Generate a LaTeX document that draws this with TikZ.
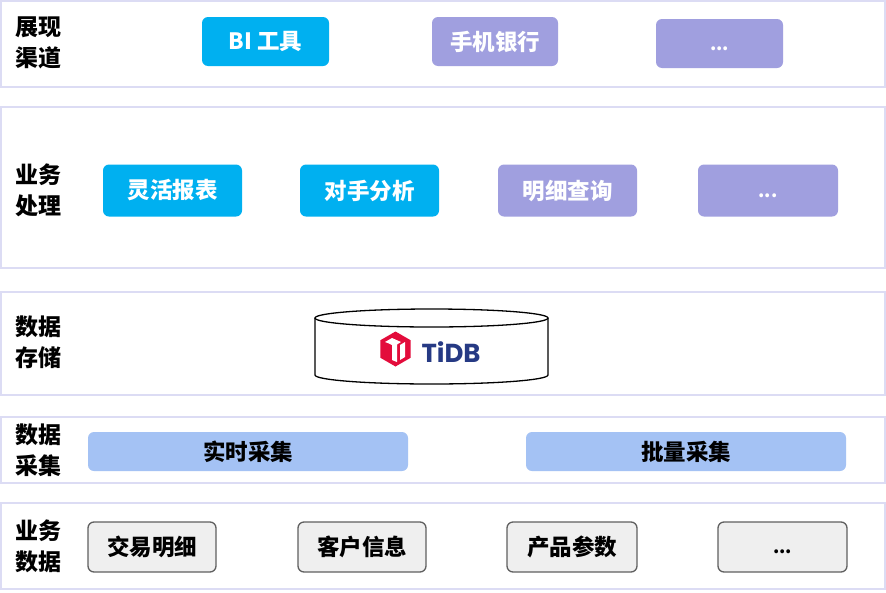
\documentclass[tikz,border=0pt]{standalone}
\usepackage{fontspec}
\usetikzlibrary{shapes.geometric}
\setmainfont{Noto Sans CJK SC}
\newfontfamily\logofont{Poppins}
\definecolor{lav}{HTML}{DCDCF4}
\definecolor{cyanbtn}{HTML}{00B0F0}
\definecolor{purbtn}{HTML}{A09FDF}
\definecolor{bluebar}{HTML}{A4C2F4}
\definecolor{greybox}{HTML}{EFEFEF}
\definecolor{greyline}{HTML}{606060}
\definecolor{tired}{HTML}{E30C3B}
\definecolor{tinavy}{HTML}{263A84}
\begin{document}
\begin{tikzpicture}[x=1pt,y=-1pt,
  panel/.style={draw=lav, line width=2pt, fill=white, inner sep=0pt},
  lbl/.style={anchor=west, align=left, font=\bfseries\fontsize{23}{31}\selectfont},
  btn/.style={rounded corners=6pt, inner sep=0pt, text=white, font=\bfseries\fontsize{22.5}{26}\selectfont},
  cbtn/.style={btn, fill=cyanbtn, minimum height=52pt},
  pbtn/.style={btn, fill=purbtn},
  bar/.style={btn, fill=bluebar, text=black, minimum width=320pt, minimum height=39pt},
  gbox/.style={btn, fill=greybox, draw=greyline, line width=1.3pt, text=black, minimum height=50pt},
  dotstext/.style={font=\bfseries\fontsize{18}{18}\selectfont}]
\useasboundingbox (0,0) rectangle (886,592);

% layers
\node[panel, minimum width=884pt, minimum height=86pt] (p1) at (443,44) {};
\node[panel, minimum width=884pt, minimum height=161pt] (p2) at (443,187.5) {};
\node[panel, minimum width=884pt, minimum height=103pt] (p3) at (443,343.5) {};
\node[panel, minimum width=884pt, minimum height=66pt] (p4) at (443,450) {};
\node[panel, minimum width=884pt, minimum height=86pt] (p5) at (443,546) {};

\node[lbl] (t1) at (12,43) {展现\\渠道};
\node[lbl] (t2) at (12,190) {业务\\处理};
\node[lbl] (t3) at (12,342) {数据\\存储};
\node[lbl] (t4) at (12,450) {数据\\采集};
\node[lbl] (t5) at (12,546) {业务\\数据};

% channels
\node[cbtn, minimum width=127pt, minimum height=49pt] (bi) at (265.5,41.5) {BI 工具};
\node[pbtn, minimum width=126pt, minimum height=49pt] (mobile) at (495,41.5) {手机银行};
\node[pbtn, minimum width=127pt, minimum height=49pt] (more1) at (719.5,43.5) {};
\node[dotstext, text=white] (d1) at ([yshift=-5pt]more1.center) {...};

% business
\node[cbtn, minimum width=139pt] (report) at (172.5,190.5) {灵活报表};
\node[cbtn, minimum width=139pt] (rival) at (369.5,190.5) {对手分析};
\node[pbtn, minimum width=139pt, minimum height=52pt] (detail) at (567.5,190.5) {明细查询};
\node[pbtn, minimum width=140pt, minimum height=52pt] (more2) at (768,190.5) {};
\node[dotstext, text=white] (d2) at ([yshift=-5pt]more2.center) {...};

% storage
\path[draw, fill=white, line width=1.3pt] (315,318) -- (315,375)
  arc[start angle=180, end angle=0, x radius=116.5, y radius=9] -- (548,318);
\path[draw, fill=white, line width=1.3pt] (431.5,318) ellipse[x radius=116.5, y radius=9];
\node[regular polygon, regular polygon sides=6, shape border rotate=30, fill=tired, minimum size=35pt, inner sep=0pt] (logo) at (395.5,349) {};
\fill[white] (385,342) -- (392,338) -- (401,342) -- (397,344.5) -- (397,362) -- (392,360) -- (392,345) -- (389,343.5) -- cycle;
\fill[white] (400,345) -- (405,342) -- (405,357) -- (400,360) -- cycle;
\node[anchor=west, text=tinavy, font=\logofont\bfseries\fontsize{26}{26}\selectfont] (db) at (418,352) {TiDB};

% collection
\node[bar] (rt) at (248,451.5) {实时采集};
\node[bar] (batch) at (686,451.5) {批量采集};

% data
\node[gbox, minimum width=128pt] (trade) at (152,547) {交易明细};
\node[gbox, minimum width=128pt] (cust) at (362,547) {客户信息};
\node[gbox, minimum width=130pt] (prod) at (572,547) {产品参数};
\node[gbox, minimum width=129pt] (more3) at (782.5,547) {};
\node[dotstext] (d3) at ([yshift=-5pt]more3.center) {...};
\end{tikzpicture}
\end{document}
